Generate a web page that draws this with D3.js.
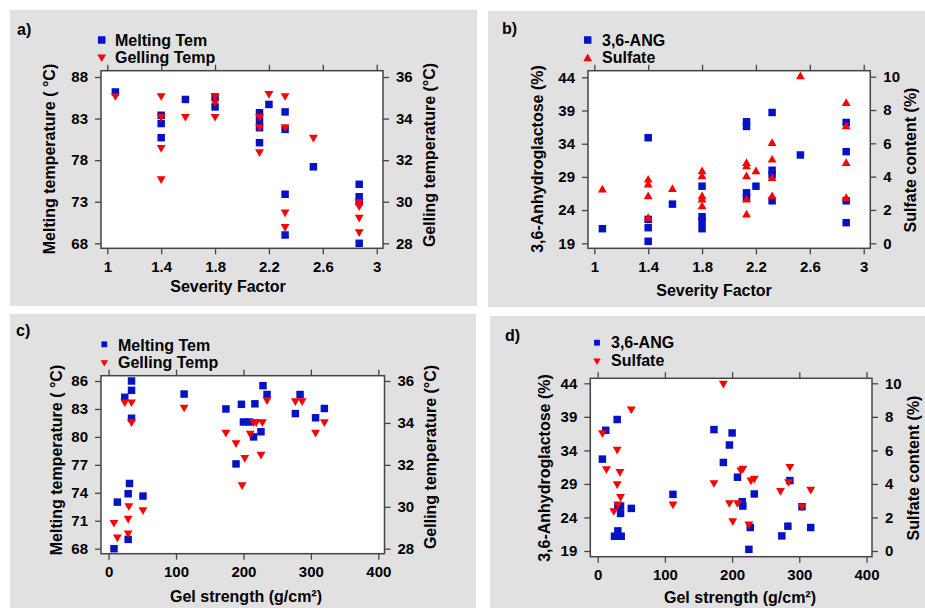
<!DOCTYPE html>
<html>
<head>
<meta charset="utf-8">
<script src="https://cdn.jsdelivr.net/npm/d3@7"></script>
<style>
  body { margin: 0; background: #fff; }
  svg { display: block; font-family: "Liberation Sans", Arial, sans-serif; }
</style>
</head>
<body>
<svg id="chart" width="925" height="608"></svg>
<script>
// ---- tick values ----
const sevTicks = [1, 1.4, 1.8, 2.2, 2.6, 3];
const gelStrTicks = [0, 100, 200, 300, 400];
const meltTicksA = [68, 73, 78, 83, 88];
const meltTicksC = [68, 71, 74, 77, 80, 83, 86];
const gelTempTicks = [28, 30, 32, 34, 36];
const angTicks = [19, 24, 29, 34, 39, 44];
const sulfTicks = [0, 2, 4, 6, 8, 10];

// ---- a) severity factor vs melting / gelling temperature ----
const meltA = [[1.06,86.2],[1.40,83.4],[1.40,82.4],[1.40,80.7],[1.58,85.3],[1.80,85.6],[1.80,84.4],
  [2.13,83.7],[2.13,82.8],[2.13,81.9],[2.13,80.1],[2.20,84.7],[2.32,83.8],[2.32,81.7],[2.32,73.9],
  [2.32,69.0],[2.53,77.2],[2.87,75.1],[2.87,73.6],[2.87,73.0],[2.87,68.0]];
const gelA = [[1.06,35.1],[1.40,35.1],[1.40,34.1],[1.40,32.6],[1.40,31.1],[1.58,34.1],[1.80,35.1],
  [1.80,34.8],[1.80,34.1],[2.13,34.1],[2.13,33.6],[2.13,32.4],[2.20,35.2],[2.32,35.1],[2.32,33.6],
  [2.32,29.5],[2.32,28.8],[2.53,33.1],[2.87,30.0],[2.87,29.8],[2.87,29.25],[2.87,28.55]];

// ---- b) severity factor vs 3,6-AG / sulfate ----
const angB = [[1.06,21.2],[1.40,34.9],[1.40,22.6],[1.40,21.35],[1.40,19.3],[1.58,24.9],[1.80,27.6],
  [1.80,23.0],[1.80,22.3],[1.80,21.2],[2.13,37.3],[2.13,36.6],[2.13,26.6],[2.13,25.9],[2.20,27.6],
  [2.32,38.7],[2.32,30.0],[2.32,29.3],[2.32,25.4],[2.53,32.3],[2.87,37.2],[2.87,32.8],[2.87,25.4],[2.87,22.1]];
const sulfB = [[1.06,3.2],[1.40,3.8],[1.40,3.5],[1.40,2.8],[1.40,1.5],[1.58,3.24],[1.80,4.3],[1.80,4.0],
  [1.80,2.8],[1.80,2.6],[1.80,2.2],[2.13,4.8],[2.13,4.6],[2.13,4.0],[2.13,2.6],[2.13,1.7],[2.20,4.3],
  [2.32,6.0],[2.32,5.0],[2.32,3.9],[2.32,2.8],[2.53,10.0],[2.87,8.4],[2.87,7.0],[2.87,4.8],[2.87,2.7]];

// ---- c) gel strength vs melting / gelling temperature ----
const meltC = [[24,84.25],[34,86.0],[34,85.0],[34,82.0],[112,84.6],[174,83.0],[197,83.5],[229,85.5],
  [235,84.55],[217,83.55],[200,81.6],[209,81.6],[226,80.55],[215,80.0],[277,82.5],[284,84.55],
  [307,82.05],[320,83.05],[189,77.1],[13,73.0],[31,75.0],[29,73.9],[51,73.65],[29,69.0],[8,68.0]];
const gelC = [[24,35.0],[34,35.0],[34,34.05],[112,34.75],[174,33.55],[189,33.05],[235,35.1],[215,34.05],
  [219,34.05],[228,34.05],[210,33.5],[202,32.35],[226,32.5],[198,31.05],[277,35.05],[287,35.05],
  [307,33.55],[320,34.05],[8,29.25],[13,28.55],[30,30.05],[51,29.85],[29,29.45],[29,28.75]];

// ---- d) gel strength vs 3,6-AG / sulfate ----
const angD = [[29,38.6],[12,37.0],[7,32.7],[173,37.1],[200,36.6],[196,34.8],[187,32.2],[30,25.6],
  [34,25.7],[34,24.6],[50,25.35],[25,21.2],[30,22.0],[30,21.2],[35,21.2],[112,27.45],[208,30.0],
  [215,26.35],[216,25.7],[227,22.5],[225,19.25],[233,27.5],[286,29.5],[274,21.25],[283,22.7],
  [304,25.6],[317,22.5]];
const sulfD = [[50,8.47],[7,7.05],[29,6.06],[187,10.0],[13,4.9],[33,4.73],[29,4.0],[34,3.24],[30,2.8],
  [24,2.4],[112,2.8],[173,4.07],[213,4.83],[216,4.93],[196,2.88],[208,2.88],[201,1.8],[225,1.6],
  [228,4.23],[233,4.33],[272,3.6],[284,4.13],[286,5.03],[304,2.68],[317,3.68]];

const BLUE = "#0412c6", RED = "#ff0000", AXIS = "#444";

const panels = [
  { tag: "a)", tagPos: [17, 35], bg: [10, 10, 467, 296], plot: [101, 70.7, 383, 248.3],
    xDom: [1, 3], xRng: [107.3, 376.7], xTicks: sevTicks,
    yLDom: [68, 88], yLRng: [243.3, 77], yLTicks: meltTicksA,
    yRDom: [28, 36], yRRng: [243.3, 77], yRTicks: gelTempTicks,
    xTitle: "Severity Factor", xTitlePos: [228, 292],
    yLTitle: "Melting temperature ( °C)", yLTitlePos: [49, 159],
    yRTitle: "Gelling temperature (°C)", yRTitlePos: [429, 155],
    sq: meltA, tri: gelA, triUp: false,
    legend: { x: 101.7, y: [40, 57], tx: 115, base: [45.7, 63.3], labels: ["Melting Tem", "Gelling Temp"], small: false } },
  { tag: "b)", tagPos: [502, 34], bg: [488, 11, 437, 296], plot: [588, 70.7, 870.3, 248.3],
    xDom: [1, 3], xRng: [594.3, 863.7], xTicks: sevTicks,
    yLDom: [19, 44], yLRng: [243.3, 77.3], yLTicks: angTicks,
    yRDom: [0, 10], yRRng: [243.3, 76.7], yRTicks: sulfTicks,
    xTitle: "Severity Factor", xTitlePos: [714, 296],
    yLTitle: "3,6-Anhydroglactose (%)", yLTitlePos: [537, 159],
    yRTitle: "Sulfate content (%)", yRTitlePos: [910, 160],
    sq: angB, tri: sulfB, triUp: true,
    legend: { x: 587.7, y: [40, 58.7], tx: 602, base: [45.7, 63], labels: ["3,6-ANG", "Sulfate"], small: false } },
  { tag: "c)", tagPos: [16, 336], bg: [10, 314, 466, 294], plot: [101, 375.7, 384.5, 553.7],
    xDom: [0, 400], xRng: [108.6, 378.3], xTicks: gelStrTicks,
    yLDom: [68, 86], yLRng: [548.7, 381], yLTicks: meltTicksC,
    yRDom: [28, 36], yRRng: [548.7, 381], yRTicks: gelTempTicks,
    xTitle: "Gel strength (g/cm²)", xTitlePos: [246, 601.5],
    yLTitle: "Melting temperature ( °C)", yLTitlePos: [56, 460],
    yRTitle: "Gelling temperature (°C)", yRTitlePos: [430, 457],
    sq: meltC, tri: gelC, triUp: false,
    legend: { x: 104.3, y: [344.3, 362.3], tx: 118, base: [350.7, 368.3], labels: ["Melting Tem", "Gelling Temp"], small: true } },
  { tag: "d)", tagPos: [505, 341], bg: [490, 316, 435, 292], plot: [590.3, 378.3, 872, 556.7],
    xDom: [0, 400], xRng: [597.7, 866.5], xTicks: gelStrTicks,
    yLDom: [19, 44], yLRng: [551, 383.3], yLTicks: angTicks,
    yRDom: [0, 10], yRRng: [551, 383.3], yRTicks: sulfTicks,
    xTitle: "Gel strength (g/cm²)", xTitlePos: [740, 602.5],
    yLTitle: "3,6-Anhydroglactose (%)", yLTitlePos: [544, 468],
    yRTitle: "Sulfate content (%)", yRTitlePos: [913, 468],
    sq: angD, tri: sulfD, triUp: false,
    legend: { x: 597, y: [342.7, 360.7], tx: 611, base: [348.3, 366], labels: ["3,6-ANG", "Sulfate"], small: true } }
];

const svg = d3.select("#chart");

function styleAxis(sel) {
  sel.select(".domain").remove();
  sel.selectAll(".tick line").attr("stroke", AXIS).attr("stroke-width", 1.3);
  sel.selectAll(".tick text")
    .attr("fill", "#000")
    .style("font-size", "15px")
    .style("font-weight", "bold");
}

function drawPanel(p) {
  const g = svg.append("g");
  const [x0, y0, x1, y1] = p.plot;

  g.append("rect")
    .attr("x", p.bg[0]).attr("y", p.bg[1])
    .attr("width", p.bg[2]).attr("height", p.bg[3])
    .attr("fill", "#e1e1e1");

  g.append("rect")
    .attr("x", x0).attr("y", y0)
    .attr("width", x1 - x0).attr("height", y1 - y0)
    .attr("fill", "#fff");

  const x = d3.scaleLinear().domain(p.xDom).range(p.xRng);
  const yL = d3.scaleLinear().domain(p.yLDom).range(p.yLRng);
  const yR = d3.scaleLinear().domain(p.yRDom).range(p.yRRng);

  // axes: ticks point outward on all four sides
  g.append("g").attr("transform", `translate(0,${y1})`)
    .call(d3.axisBottom(x).tickValues(p.xTicks).tickFormat(d => String(d))
      .tickSizeInner(6).tickSizeOuter(0).tickPadding(7))
    .call(styleAxis);
  g.append("g").attr("transform", `translate(0,${y0})`)
    .call(d3.axisTop(x).tickValues(p.xTicks).tickFormat("")
      .tickSizeInner(6).tickSizeOuter(0))
    .call(styleAxis);
  g.append("g").attr("transform", `translate(${x0},0)`)
    .call(d3.axisLeft(yL).tickValues(p.yLTicks).tickFormat(d => String(d))
      .tickSizeInner(6).tickSizeOuter(0).tickPadding(7))
    .call(styleAxis);
  g.append("g").attr("transform", `translate(${x1},0)`)
    .call(d3.axisRight(yR).tickValues(p.yRTicks).tickFormat(d => String(d))
      .tickSizeInner(6).tickSizeOuter(0).tickPadding(7))
    .call(styleAxis);

  // frame
  g.append("rect")
    .attr("x", x0).attr("y", y0)
    .attr("width", x1 - x0).attr("height", y1 - y0)
    .attr("fill", "none").attr("stroke", AXIS).attr("stroke-width", 1.5);

  // titles
  const title = (txt, pos, rot) => {
    g.append("text")
      .attr("transform", `translate(${pos[0]},${pos[1]})` + (rot ? " rotate(-90)" : ""))
      .attr("text-anchor", "middle")
      .attr("dy", rot ? "0.36em" : 0)
      .style("font-size", "16px").style("font-weight", "bold")
      .text(txt);
  };
  title(p.xTitle, p.xTitlePos, false);
  title(p.yLTitle, p.yLTitlePos, true);
  title(p.yRTitle, p.yRTitlePos, true);

  g.append("text")
    .attr("x", p.tagPos[0]).attr("y", p.tagPos[1])
    .style("font-size", "16px").style("font-weight", "bold")
    .text(p.tag);

  // markers
  const sq = d3.symbol(d3.symbolSquare, 56);
  const tri = d3.symbol(d3.symbolTriangle, 34);
  const triRot = p.triUp ? "" : " rotate(180)";

  g.append("g").selectAll("path").data(p.sq).join("path")
    .attr("d", sq)
    .attr("transform", d => `translate(${x(d[0])},${yL(d[1])})`)
    .attr("fill", BLUE);

  g.append("g").selectAll("path").data(p.tri).join("path")
    .attr("d", tri)
    .attr("transform", d => `translate(${x(d[0])},${yR(d[1])})` + triRot)
    .attr("fill", RED);

  // legend
  const L = p.legend;
  const lg = g.append("g");
  lg.append("path")
    .attr("d", d3.symbol(d3.symbolSquare, L.small ? 34 : 56))
    .attr("transform", `translate(${L.x},${L.y[0]})`)
    .attr("fill", BLUE);
  lg.append("path")
    .attr("d", d3.symbol(d3.symbolTriangle, L.small ? 24 : 34))
    .attr("transform", `translate(${L.x},${L.y[1]})` + triRot)
    .attr("fill", RED);
  L.labels.forEach((t, i) => {
    lg.append("text")
      .attr("x", L.tx).attr("y", L.base[i])
      .style("font-size", "16px").style("font-weight", "bold")
      .text(t);
  });
}

panels.forEach(drawPanel);
</script>
</body>
</html>
